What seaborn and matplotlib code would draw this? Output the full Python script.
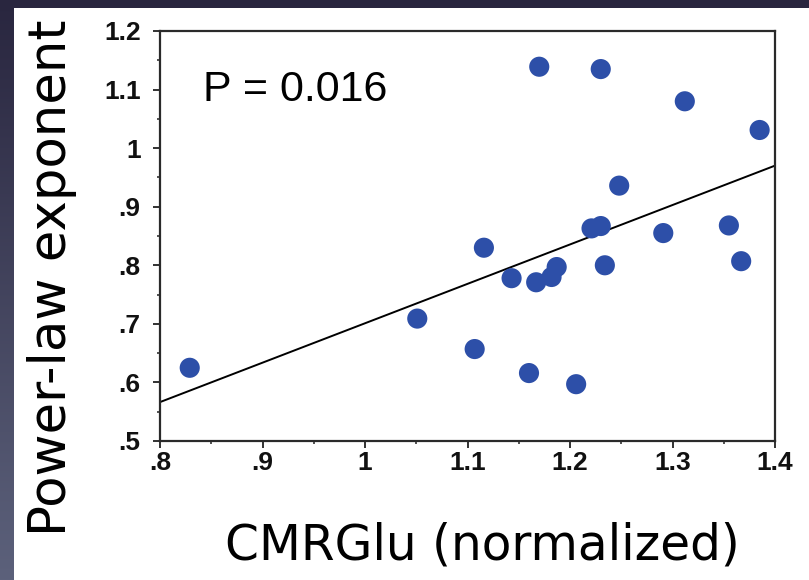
import numpy as np
import pandas as pd
import matplotlib
matplotlib.use("Agg")
import matplotlib.pyplot as plt
import seaborn as sns
from matplotlib.patches import Rectangle
from matplotlib.ticker import MultipleLocator

# values
cmrglu = [0.829, 1.051, 1.107, 1.116, 1.143, 1.160, 1.167, 1.170, 1.182, 1.187, 1.206,
          1.221, 1.230, 1.230, 1.234, 1.248, 1.291, 1.312, 1.355, 1.367, 1.385]
exponent = [0.625, 0.709, 0.657, 0.830, 0.778, 0.616, 0.771, 1.139, 0.780, 0.797, 0.597,
            0.863, 0.867, 1.135, 0.800, 0.936, 0.855, 1.080, 0.868, 0.807, 1.031]

xticks = [0.8, 0.9, 1.0, 1.1, 1.2, 1.3, 1.4]
xtick_labels = ['.8', '.9', '1', '1.1', '1.2', '1.3', '1.4']
yticks = [0.5, 0.6, 0.7, 0.8, 0.9, 1.0, 1.1, 1.2]
ytick_labels = ['.5', '.6', '.7', '.8', '.9', '1', '1.1', '1.2']
p_label = "P = 0.016"

df = pd.DataFrame({'CMRGlu': cmrglu, 'exponent': exponent})

sns.set_style("ticks")
plt.rcParams['font.family'] = ['DejaVu Sans']

W, H = 809, 580
fig = plt.figure(figsize=(W / 100, H / 100), dpi=100)
fig.patch.set_facecolor('#29263f')

# slide background: dark border, lighter towards bottom-left, white panel
bg = fig.add_axes([0, 0, 1, 1], zorder=-10)
t = np.linspace(0, 1, 256)[:, None, None]
c_top = np.array([0x29, 0x26, 0x3f]) / 255
c_bot = np.array([0x5c, 0x61, 0x7b]) / 255
bg.imshow(c_top + t * (c_bot - c_top), extent=(0, W, H, 0), aspect='auto')
bg.add_patch(Rectangle((14, 8), W - 14, H - 8, facecolor='white', edgecolor='none'))
fade = np.linspace(0.91, 1.0, 64)[:, None, None] * np.ones((1, 1, 3))
bg.imshow(fade, extent=(14, W, 34, 8), aspect='auto')
bg.set_xlim(0, W)
bg.set_ylim(H, 0)
bg.axis('off')

ax = fig.add_axes([160 / W, 1 - 441 / H, 615 / W, 410 / H])
ax.set_facecolor('none')
ax.set_xlim(0.8, 1.4)
ax.set_ylim(0.5, 1.2)

sns.regplot(data=df, x='CMRGlu', y='exponent', ax=ax, ci=None, truncate=False,
            scatter_kws=dict(s=210, color='#2d4fa8', edgecolor='none', alpha=1, zorder=3),
            line_kws=dict(color='black', lw=1.4, zorder=2))
ax.set_xlim(0.8, 1.4)
ax.set_ylim(0.5, 1.2)

ax.set_xticks(xticks)
ax.set_xticklabels(xtick_labels)
ax.set_yticks(yticks)
ax.set_yticklabels(ytick_labels)
ax.xaxis.set_minor_locator(MultipleLocator(0.05))
ax.yaxis.set_minor_locator(MultipleLocator(0.05))
ax.tick_params(which='major', direction='out', length=5, width=1.3, color='#222222')
ax.tick_params(which='minor', direction='out', length=2.5, width=1.1, color='#222222')
ax.tick_params(axis='x', pad=2)
ax.tick_params(axis='y', pad=9)
for lbl in ax.get_xticklabels() + ax.get_yticklabels():
    lbl.set_fontfamily('Liberation Sans')
    lbl.set_fontweight('bold')
    lbl.set_fontsize(19)
    lbl.set_color('#111111')

for s in ax.spines.values():
    s.set_visible(True)
    s.set_linewidth(1.6)
    s.set_color('#2a2a2a')

ax.set_xlabel("CMRGlu (normalized)", fontsize=35, color='black')
ax.set_ylabel("Power-law exponent", fontsize=37, color='black')
ax.xaxis.label.set_va('center')
ax.xaxis.set_label_coords(0.524, -0.254)
ax.yaxis.label.set_va('center')
ax.yaxis.set_label_coords(-0.176, 0.398)

ax.text(0.07, 0.829, p_label, transform=ax.transAxes, fontsize=31, color='black',
        family='Liberation Sans', va='baseline', ha='left')

fig.savefig('out.png', dpi=100)
